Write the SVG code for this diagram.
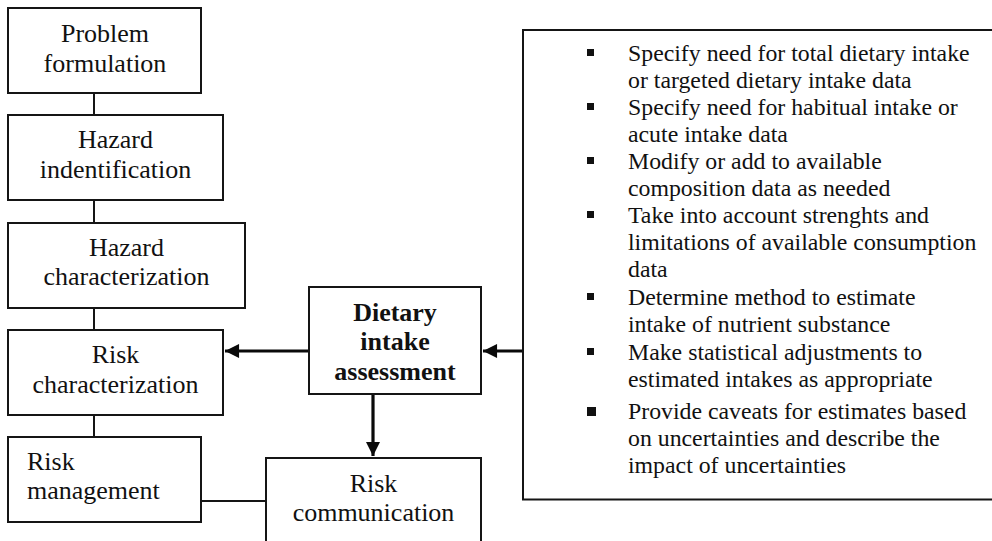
<svg xmlns="http://www.w3.org/2000/svg" width="992" height="541" viewBox="0 0 992 541">
  <style>
    .box { fill: #ffffff; stroke: #151515; stroke-width: 2; }
    .lbl { font-family: "Liberation Serif", "Times New Roman", serif; font-size: 26px; fill: #111; text-anchor: middle; }
    .bold { font-weight: bold; }
    .item { font-family: "Liberation Serif", "Times New Roman", serif; font-size: 23.8px; fill: #111; }
    .link { stroke: #151515; stroke-width: 2; fill: none; }
    .arrow { stroke: #0a0a0a; stroke-width: 3.2; fill: none; }
    .bullet { fill: #111; }
  </style>
  <defs>
    <marker id="head" viewBox="0 0 10 10" refX="10" refY="5" markerWidth="5" markerHeight="4.4" markerUnits="strokeWidth" orient="auto">
      <path d="M0,0 L10,5 L0,10 z" fill="#0a0a0a"/>
    </marker>
  </defs>

  <rect width="992" height="541" fill="#ffffff"/>

  <!-- connectors -->
  <g id="connectors">
    <line class="link" x1="94" y1="93" x2="94" y2="115"/>
    <line class="link" x1="94" y1="200" x2="94" y2="223"/>
    <line class="link" x1="94" y1="308" x2="94" y2="330"/>
    <line class="link" x1="94" y1="415" x2="94" y2="437"/>
    <line class="link" x1="201" y1="501" x2="266" y2="501"/>
    <line class="arrow" x1="309" y1="351" x2="225" y2="351" marker-end="url(#head)"/>
    <line class="arrow" x1="523" y1="351" x2="483" y2="351" marker-end="url(#head)"/>
    <line class="arrow" x1="373" y1="394" x2="373" y2="456" marker-end="url(#head)"/>
  </g>

  <g id="problem-formulation">
    <rect class="box" x="8" y="8" width="193" height="85"/>
    <text class="lbl" x="105" y="42">Problem</text>
    <text class="lbl" x="105" y="72">formulation</text>
  </g>

  <g id="hazard-identification">
    <rect class="box" x="8" y="115" width="215" height="85"/>
    <text class="lbl" x="115.5" y="148">Hazard</text>
    <text class="lbl" x="115.5" y="178">indentification</text>
  </g>

  <g id="hazard-characterization">
    <rect class="box" x="8" y="223" width="237" height="85"/>
    <text class="lbl" x="126.5" y="256">Hazard</text>
    <text class="lbl" x="126.5" y="285">characterization</text>
  </g>

  <g id="risk-characterization">
    <rect class="box" x="8" y="330" width="215" height="85"/>
    <text class="lbl" x="115.5" y="363">Risk</text>
    <text class="lbl" x="115.5" y="393">characterization</text>
  </g>

  <g id="risk-management">
    <rect class="box" x="8" y="437" width="193" height="85"/>
    <text class="lbl" x="27" y="470" text-anchor="start" style="text-anchor:start">Risk</text>
    <text class="lbl" x="27" y="499" style="text-anchor:start">management</text>
  </g>

  <g id="risk-communication">
    <rect class="box" x="266" y="458" width="215" height="90"/>
    <text class="lbl" x="373.5" y="492">Risk</text>
    <text class="lbl" x="373.5" y="521">communication</text>
  </g>

  <g id="dietary-intake-assessment">
    <rect class="box" x="309" y="287" width="172" height="107"/>
    <text class="lbl bold" x="395" y="321">Dietary</text>
    <text class="lbl bold" x="395" y="350">intake</text>
    <text class="lbl bold" x="395" y="380">assessment</text>
  </g>

  <g id="assessment-tasks">
    <rect class="box" x="523" y="30" width="500" height="469.5"/>
    <rect class="bullet" x="587" y="49" width="7" height="7"/>
    <text class="item" x="628" y="61">Specify need for total dietary intake</text>
    <text class="item" x="628" y="88">or targeted dietary intake data</text>
    <rect class="bullet" x="587" y="103" width="7" height="7"/>
    <text class="item" x="628" y="115">Specify need for habitual intake or</text>
    <text class="item" x="628" y="142">acute intake data</text>
    <rect class="bullet" x="587" y="157" width="7" height="7"/>
    <text class="item" x="628" y="169">Modify or add to available</text>
    <text class="item" x="628" y="196">composition data as needed</text>
    <rect class="bullet" x="587" y="211" width="7" height="7"/>
    <text class="item" x="628" y="223">Take into account strenghts and</text>
    <text class="item" x="628" y="250">limitations of available consumption</text>
    <text class="item" x="628" y="277">data</text>
    <rect class="bullet" x="587" y="293" width="7" height="7"/>
    <text class="item" x="628" y="305">Determine method to estimate</text>
    <text class="item" x="628" y="332">intake of nutrient substance</text>
    <rect class="bullet" x="587" y="348" width="7" height="7"/>
    <text class="item" x="628" y="360">Make statistical adjustments to</text>
    <text class="item" x="628" y="387">estimated intakes as appropriate</text>
    <rect class="bullet" x="587" y="407" width="9" height="9"/>
    <text class="item" x="628" y="419">Provide caveats for estimates based</text>
    <text class="item" x="628" y="446">on uncertainties and describe the</text>
    <text class="item" x="628" y="473">impact of uncertainties</text>
  </g>
</svg>
